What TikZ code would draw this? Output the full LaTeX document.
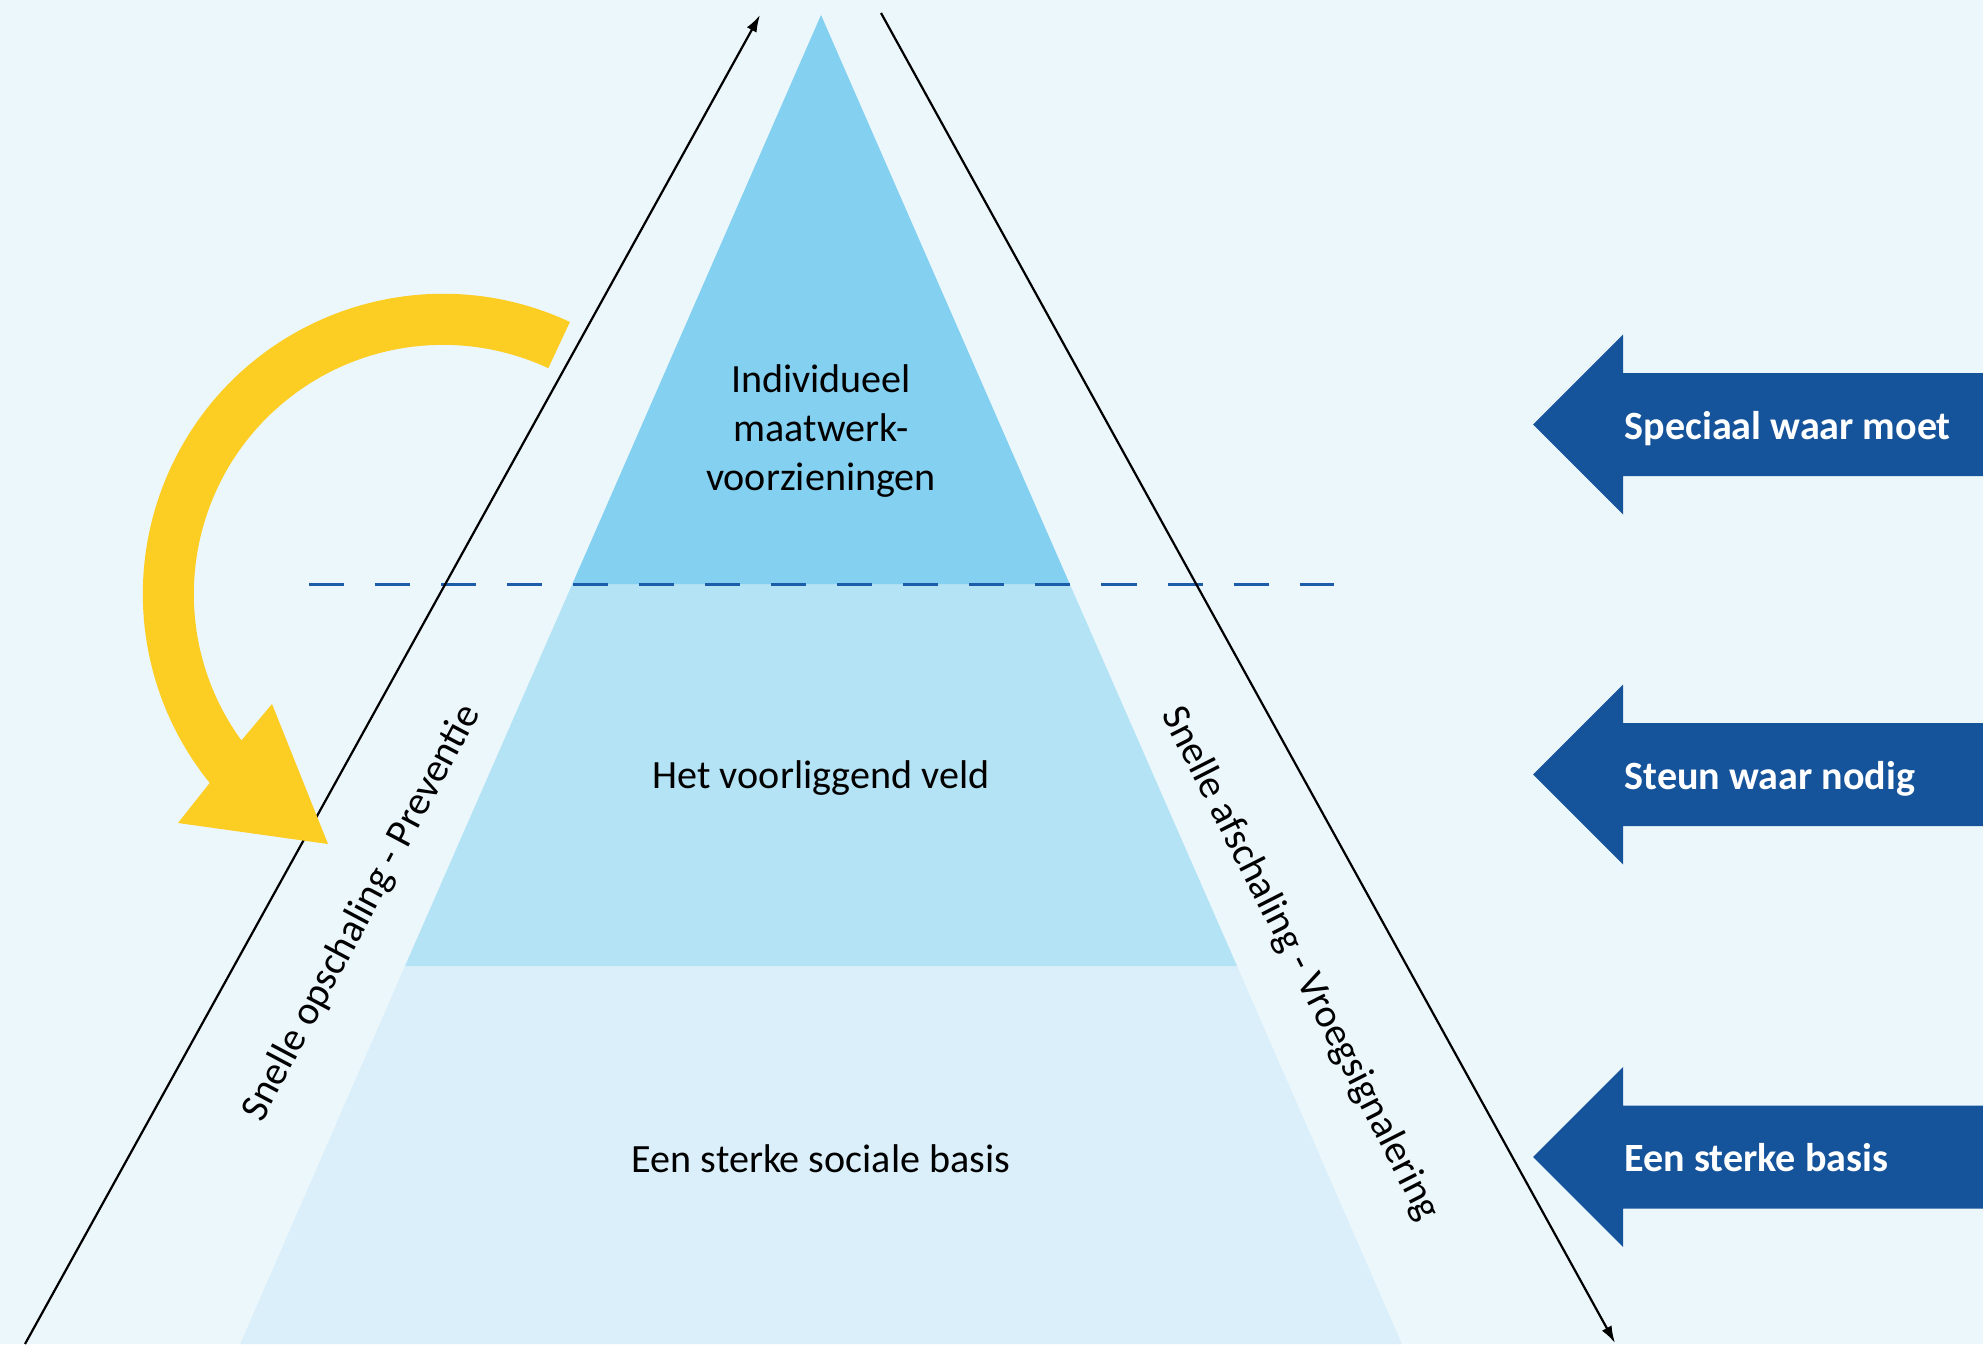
\documentclass[tikz,border=0pt]{standalone}
\usepackage{fontspec}
\setmainfont{Carlito}
\usetikzlibrary{arrows.meta,calc}
\definecolor{achtergrond}{HTML}{ECF7FC}
\definecolor{laagtop}{HTML}{84D0F0}
\definecolor{laagmidden}{HTML}{B3E3F4}
\definecolor{laagbasis}{HTML}{DAEFFA}
\definecolor{pijlblauw}{HTML}{15539B}
\definecolor{streepblauw}{HTML}{1C5CA8}
\definecolor{pijlgeel}{HTML}{FCCD22}
\begin{document}
\begin{tikzpicture}[x=0.01cm,y=0.01cm,line join=miter,
  tekst/.style={font=\fontsize{11.4}{14}\selectfont,inner sep=0pt},
  label/.style={tekst,font=\fontsize{11.4}{14}\selectfont\bfseries,text=white,anchor=base west},
  schaal/.style={line width=0.022cm,-{Latex[length=0.17cm,width=0.11cm]}}]
  \fill[achtergrond] (0,0) rectangle (1983,1344);
  \useasboundingbox (0,0) rectangle (1983,1344);

  % lagen van de piramide
  \coordinate (top) at (821,1329);
  \coordinate (lo1) at (572.3,760);
  \coordinate (ro1) at (1069.7,760);
  \coordinate (lo2) at (405,378);
  \coordinate (ro2) at (1237,378);
  \fill[laagbasis] (240.2,0) -- (lo2) -- (ro2) -- (1401.8,0) -- cycle;
  \fill[laagmidden] (lo2) -- (lo1) -- (ro1) -- (ro2) -- cycle;
  \fill[laagtop] (lo1) -- (top) -- (ro1) -- cycle;

  \coordinate (streepL) at (309,760);
  \coordinate (streepR) at (1334,760);
  \draw[streepblauw,line width=0.03cm,dash pattern=on 0.35cm off 0.31cm] (streepL) -- (streepR);

  % op- en afschaling
  \coordinate (opA) at (25,0);
  \coordinate (opB) at (760,1329);
  \coordinate (afA) at (881,1331);
  \coordinate (afB) at (1615,1);
  \draw[schaal] (opA) -- (opB);
  \draw[schaal] (afA) -- (afB);

  \coordinate (boog) at (443,750);
  \fill[pijlgeel] ($(boog)+(65:3cm)$) arc[start angle=65,end angle=219,radius=3cm]
    -- (178,521) -- (328,500) -- (272,640)
    -- ($(boog)+(216:2.49cm)$) arc[start angle=216,end angle=65,radius=2.49cm] -- cycle;

  \node[tekst,align=center] (maatwerk) at (821,913) {Individueel\\maatwerk-\\voorzieningen};
  \node[tekst,anchor=base] (veld) at (821,556) {Het voorliggend veld};
  \node[tekst,anchor=base] (basis) at (821,172) {Een sterke sociale basis};
  \node[tekst,rotate=62] (opschaling) at (362,431) {Snelle opschaling - Preventie};
  \node[tekst,rotate=-63] (afschaling) at (1300,380) {Snelle afschaling - Vroegsignalering};

  \foreach \yc/\lab [count=\i] in {919.5/Speciaal waar moet,569.5/Steun waar nodig,187/Een sterke basis}{
    \fill[pijlblauw] (1533,\yc) -- (1623,\yc+90) -- (1623,\yc+51.5) -- (1983,\yc+51.5)
      -- (1983,\yc-51.5) -- (1623,\yc-51.5) -- (1623,\yc-90) -- cycle;
    \node[label] (niveau\i) at (1624,\yc-14.5) {\lab};
  }
\end{tikzpicture}
\end{document}
